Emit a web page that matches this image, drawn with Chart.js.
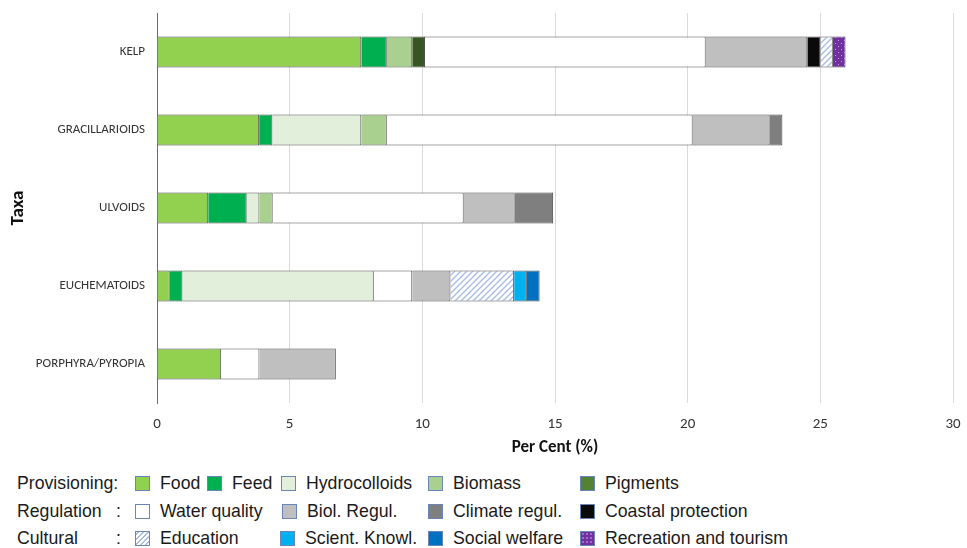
<!DOCTYPE html>
<html lang="en">
<head>
<meta charset="UTF-8">
<title>Ecosystem services by taxa</title>
<script src="https://cdn.jsdelivr.net/npm/chart.js"></script>
<style>
  body { margin: 0; background: #fff; font-family: "Liberation Sans", Arial, sans-serif; }
  #wrap { position: relative; width: 967px; height: 548px; }
  #chartBox { position: absolute; left: 0; top: 0; width: 967px; height: 460px; }
  .lg { position: absolute; font-size: 17.7px; color: #1a1a1a; line-height: 20px; white-space: nowrap; }
  .sw { position: absolute; width: 15px; height: 15px; border: 1px solid #6a86b8; box-sizing: border-box; }
</style>
</head>
<body>
<div id="wrap">
  <div id="chartBox"><canvas id="c" width="967" height="460"></canvas></div>
  <div id="legend"></div>
</div>
<script>
// categories (top to bottom)
const taxa = ['KELP', 'GRACILLARIOIDS', 'ULVOIDS', 'EUCHEMATOIDS', 'PORPHYRA/PYROPIA'];

// per cent values, one array per service
const food         = [7.70, 3.85, 1.93, 0.48, 2.42];
const feed         = [0.96, 0.50, 1.45, 0.48, null];
const hydrocolloid = [null, 3.35, 0.48, 7.21, null];
const biomass      = [0.96, 0.96, 0.50, null, null];
const pigments     = [0.48, null, null, null, null];
const waterQuality = [10.58, 11.53, 7.20, 1.45, 1.44];
const biolRegul    = [3.83, 2.90, 1.92, 1.44, 2.88];
const climateRegul = [null, 0.48, 1.45, null, null];
const coastal      = [0.50, null, null, null, null];
const education    = [0.46, null, null, 2.40, null];
const scientKnowl  = [null, null, null, 0.48, null];
const socialWelf   = [null, null, null, 0.48, null];
const recreation   = [0.48, null, null, null, null];

const xTicks = [0, 5, 10, 15, 20, 25, 30];

function hatchPattern() {
  const t = document.createElement('canvas');
  t.width = 6; t.height = 6;
  const g = t.getContext('2d');
  g.fillStyle = '#ffffff'; g.fillRect(0, 0, 6, 6);
  g.strokeStyle = '#a8bde3'; g.lineWidth = 1.4;
  g.beginPath();
  g.moveTo(0, 6); g.lineTo(6, 0);
  g.moveTo(-1, 1); g.lineTo(1, -1);
  g.moveTo(5, 7); g.lineTo(7, 5);
  g.stroke();
  return g.createPattern(t, 'repeat');
}
function dotPattern() {
  const t = document.createElement('canvas');
  t.width = 6; t.height = 6;
  const g = t.getContext('2d');
  g.fillStyle = '#7030a0'; g.fillRect(0, 0, 6, 6);
  g.fillStyle = '#c7a3e3';
  g.fillRect(1, 1, 1, 1); g.fillRect(4, 4, 1, 1);
  return g.createPattern(t, 'repeat');
}

const series = [
  ['Food', food, '#92d050'],
  ['Feed', feed, '#00b050'],
  ['Hydrocolloids', hydrocolloid, '#e2efda'],
  ['Biomass', biomass, '#a9d08e'],
  ['Pigments', pigments, '#375623'],
  ['Water quality', waterQuality, '#ffffff'],
  ['Biol. Regul.', biolRegul, '#bfbfbf'],
  ['Climate regul.', climateRegul, '#7f7f7f'],
  ['Coastal protection', coastal, '#0a0a0a'],
  ['Education', education, hatchPattern()],
  ['Scient. Knowl.', scientKnowl, '#00b0f0'],
  ['Social welfare', socialWelf, '#0070c0'],
  ['Recreation and tourism', recreation, dotPattern()]
];

const tickFont = "Carlito, 'Liberation Sans Narrow', 'Open Sans', sans-serif";

new Chart(document.getElementById('c'), {
  type: 'bar',
  data: {
    labels: taxa,
    datasets: series.map(s => ({
      label: s[0],
      data: s[1],
      backgroundColor: s[2],
      borderColor: '#4d4d4d',
      borderWidth: 1,
      barPercentage: 0.4,
      categoryPercentage: 1
    }))
  },
  options: {
    indexAxis: 'y',
    responsive: false,
    animation: false,
    layout: { padding: { top: 13, right: 14, left: 0, bottom: 0 } },
    plugins: { legend: { display: false }, tooltip: { enabled: false } },
    scales: {
      x: {
        stacked: true,
        min: 0, max: 30,
        afterBuildTicks: sc => { sc.ticks = xTicks.map(v => ({ value: v })); },
        afterFit: sc => { sc.height = 57; sc.paddingLeft = 0; sc.paddingRight = 0; },
        grid: { color: '#d9d9d9', drawTicks: false },
        border: { display: false },
        ticks: { padding: 12, color: '#333', font: { family: tickFont, size: 15 } },
        title: {
          display: true, text: 'Per Cent (%)', color: '#111',
          font: { family: tickFont, size: 17, weight: 'bold' },
          padding: { top: 0, bottom: 2 }
        }
      },
      y: {
        stacked: true,
        afterFit: sc => { sc.width = 157; sc.paddingTop = 0; sc.paddingBottom = 0; },
        grid: { display: false, drawTicks: false },
        border: { display: true, color: '#6b6b6b', width: 1 },
        ticks: { padding: 12, color: '#333', font: { family: tickFont, size: 13 } },
        title: {
          display: true, text: 'Taxa', color: '#111',
          font: { family: tickFont, size: 19, weight: 'bold' },
          padding: { top: 7, bottom: 0 }
        }
      }
    }
  }
});

// legend, built from the series list
const rows = [
  { y: 473, head: 'Provisioning:', colon: null, items: [0, 1, 2, 3, 4], xs: [135, 207, 281, 428, 580] },
  { y: 501, head: 'Regulation', colon: ':', items: [5, 6, 7, 8], xs: [135, 282, 428, 580] },
  { y: 528, head: 'Cultural', colon: ':', items: [9, 10, 11, 12], xs: [135, 280, 428, 580] }
];
const swatchCss = {
  'Pigments': '#548235',
  'Education': 'repeating-linear-gradient(-45deg, #ffffff 0 2px, #a8bde3 2px 3.5px)',
  'Recreation and tourism': 'radial-gradient(circle, #b990dc 0.6px, transparent 0.9px) 0 0 / 4px 4px, #7030a0'
};
const lg = document.getElementById('legend');
rows.forEach(r => {
  const h = document.createElement('div');
  h.className = 'lg'; h.textContent = r.head;
  h.style.left = '17px'; h.style.top = r.y + 'px';
  lg.appendChild(h);
  if (r.colon) {
    const c = document.createElement('div');
    c.className = 'lg'; c.textContent = r.colon;
    c.style.left = '116px'; c.style.top = r.y + 'px';
    lg.appendChild(c);
  }
  r.items.forEach((idx, i) => {
    const s = series[idx];
    const sw = document.createElement('div');
    sw.className = 'sw';
    sw.style.left = r.xs[i] + 'px';
    sw.style.top = (r.y + 3) + 'px';
    sw.style.background = swatchCss[s[0]] || s[2];
    lg.appendChild(sw);
    const t = document.createElement('div');
    t.className = 'lg'; t.textContent = s[0];
    t.style.left = (r.xs[i] + 25) + 'px'; t.style.top = r.y + 'px';
    lg.appendChild(t);
  });
});
</script>
</body>
</html>
